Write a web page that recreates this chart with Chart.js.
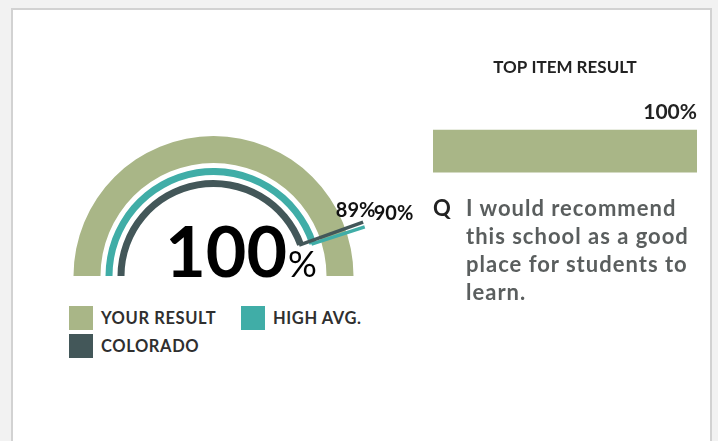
<!DOCTYPE html>
<html>
<head>
<meta charset="utf-8">
<script src="https://cdn.jsdelivr.net/npm/chart.js@4/dist/chart.umd.min.js"></script>
<style>
  html, body { margin: 0; padding: 0; }
  body { width: 718px; height: 441px; background: #f2f2f2; position: relative; overflow: hidden; font-family: Lato, "Open Sans", sans-serif; }
  .panel { position: absolute; left: 11px; top: 8px; width: 697px; height: 460px; background: #fff; border: 2px solid #d2d2d2; }
  #gauge { position: absolute; left: 59px; top: 110px; }
  #topItem { position: absolute; left: 433px; top: 50px; }
  .legend { position: absolute; left: 69px; top: 306px; width: 330px; }
  .legend .item { position: absolute; display: flex; align-items: center; height: 24px; white-space: nowrap; font-weight: bold; font-size: 16.5px; letter-spacing: 0.6px; color: #2f2f2f; }
  .legend .box { width: 24px; height: 24px; margin-right: 8px; }
  .question { position: absolute; left: 433px; top: 193.5px; font-weight: bold; font-size: 22px; line-height: 28px; }
  .question .q { position: absolute; left: 0; top: 0; color: #222; }
  .question .text { position: absolute; left: 33px; top: 0; color: #5a5e5e; white-space: nowrap; letter-spacing: 1px; }
</style>
</head>
<body>
<div class="panel"></div>
<canvas id="gauge" width="354" height="170"></canvas>
<canvas id="topItem" width="264" height="150"></canvas>
<div class="legend" id="legend"></div>
<div class="question"><span class="q">Q</span><span class="text" id="qtext"></span></div>

<script>
// gauge data
const gaugeLabels = ["YOUR RESULT", "HIGH AVG.", "COLORADO"];
const gaugeValues = [100, 90, 89];
const gaugeColors = ["#a9b687", "#40ada7", "#435759"];

// top item data
const itemTitle = "TOP ITEM RESULT";
const itemLabels = ["I would recommend this school as a good place for students to learn."];
const itemValues = [100];
const itemLines = ["I would recommend", "this school as a good", "place for students to", "learn."];

// ring thickness (px) and gap between rings
const ringWeights = [27, 7, 7];
const ringGap = 5;
const outerRadius = 140;
// where the value labels sit relative to the leader line end
const labelOffsets = [null, { dx: 9, dy: -7, align: "left" }, { dx: -7.5, dy: -5, align: "center" }];

function buildGaugeDatasets() {
  const sets = [];
  gaugeValues.forEach((v, i) => {
    if (i > 0) {
      sets.push({ data: [1], backgroundColor: ["rgba(0,0,0,0)"], weight: ringGap, spacer: true });
    }
    sets.push({
      label: gaugeLabels[i],
      data: [v, 100 - v],
      backgroundColor: [gaugeColors[i], "rgba(0,0,0,0)"],
      weight: ringWeights[i],
      ringIndex: i,
    });
  });
  return sets;
}

const totalWeight = ringWeights.reduce((a, b) => a + b, 0) + ringGap * (ringWeights.length - 1);
const cutoutPct = ((outerRadius - totalWeight) / outerRadius * 100).toFixed(4) + "%";

const gaugeDecor = {
  id: "gaugeDecor",
  afterDatasetsDraw(chart) {
    const ctx = chart.ctx;
    const first = chart.getDatasetMeta(0).data[0];
    const cx = first.x, cy = first.y;
    const leaderEnd = first.outerRadius + 19;

    // leader lines + value labels for the inner rings
    chart.data.datasets.forEach((ds, di) => {
      if (ds.spacer || !ds.ringIndex) return;
      const arc = chart.getDatasetMeta(di).data[0];
      const a = arc.endAngle;
      const r0 = arc.innerRadius + 2;
      const x0 = cx + r0 * Math.cos(a), y0 = cy + r0 * Math.sin(a);
      const x1 = cx + leaderEnd * Math.cos(a), y1 = cy + leaderEnd * Math.sin(a);
      ctx.save();
      ctx.strokeStyle = gaugeColors[ds.ringIndex];
      ctx.lineWidth = 3.5;
      ctx.beginPath();
      ctx.moveTo(x0, y0);
      ctx.lineTo(x1, y1);
      ctx.stroke();
      const off = labelOffsets[ds.ringIndex];
      ctx.fillStyle = "#111";
      ctx.font = "bold 20px Lato";
      ctx.textAlign = off.align;
      ctx.textBaseline = "alphabetic";
      ctx.fillText(gaugeValues[ds.ringIndex] + "%", x1 + off.dx, y1 + off.dy);
      ctx.restore();
    });

    // big centre value
    ctx.save();
    ctx.fillStyle = "#000";
    ctx.textBaseline = "alphabetic";
    ctx.textAlign = "right";
    ctx.font = "bold 70px Lato";
    ctx.fillText(String(gaugeValues[0]), cx + 73.5, cy + 0.5);
    ctx.textAlign = "left";
    ctx.font = "36px Lato";
    ctx.fillText("%", cx + 74.5, cy + 0.5);
    ctx.restore();
  }
};

const barLabel = {
  id: "barLabel",
  afterDatasetsDraw(chart) {
    const ctx = chart.ctx;
    const bar = chart.getDatasetMeta(0).data[0];
    ctx.save();
    ctx.fillStyle = "#222";
    ctx.font = "bold 21px Lato";
    ctx.textAlign = "right";
    ctx.textBaseline = "alphabetic";
    ctx.fillText(itemValues[0] + "%", bar.x, bar.y - bar.height / 2 - 11);
    ctx.restore();
  }
};

function buildLegend() {
  const el = document.getElementById("legend");
  const pos = [[0, 0], [172, 0], [0, 28]];
  gaugeLabels.forEach((lab, i) => {
    const item = document.createElement("div");
    item.className = "item";
    item.style.left = pos[i][0] + "px";
    item.style.top = pos[i][1] + "px";
    const box = document.createElement("span");
    box.className = "box";
    box.style.background = gaugeColors[i];
    const t = document.createElement("span");
    t.textContent = lab;
    item.appendChild(box);
    item.appendChild(t);
    el.appendChild(item);
  });
  document.getElementById("qtext").innerHTML = itemLines.join("<br>");
}

function drawCharts() {
  new Chart(document.getElementById("gauge"), {
    type: "doughnut",
    data: { labels: ["value", "rest"], datasets: buildGaugeDatasets() },
    options: {
      responsive: false,
      animation: false,
      devicePixelRatio: 1,
      rotation: -90,
      circumference: 180,
      radius: outerRadius,
      cutout: cutoutPct,
      borderWidth: 0,
      layout: { padding: { left: 0, right: 45, top: 22, bottom: 0 } },
      plugins: { legend: { display: false }, tooltip: { enabled: false } },
    },
    plugins: [gaugeDecor],
  });

  new Chart(document.getElementById("topItem"), {
    type: "bar",
    data: {
      labels: itemLabels,
      datasets: [{ data: itemValues, backgroundColor: gaugeColors[0], barThickness: 42, borderWidth: 0 }],
    },
    options: {
      indexAxis: "y",
      responsive: false,
      animation: false,
      devicePixelRatio: 1,
      layout: { padding: 0 },
      scales: {
        x: { display: false, min: 0, max: 100 },
        y: { display: false },
      },
      plugins: {
        legend: { display: false },
        tooltip: { enabled: false },
        title: {
          display: true,
          text: itemTitle,
          color: "#222",
          font: { family: "Lato", size: 17, weight: "bold" },
          padding: { top: 7, bottom: 25 },
        },
      },
    },
    plugins: [barLabel],
  });
}

buildLegend();
Promise.all([
  document.fonts.load("bold 16px Lato"),
  document.fonts.load("21px Lato"),
]).catch(() => {}).then(drawCharts);
</script>
</body>
</html>
